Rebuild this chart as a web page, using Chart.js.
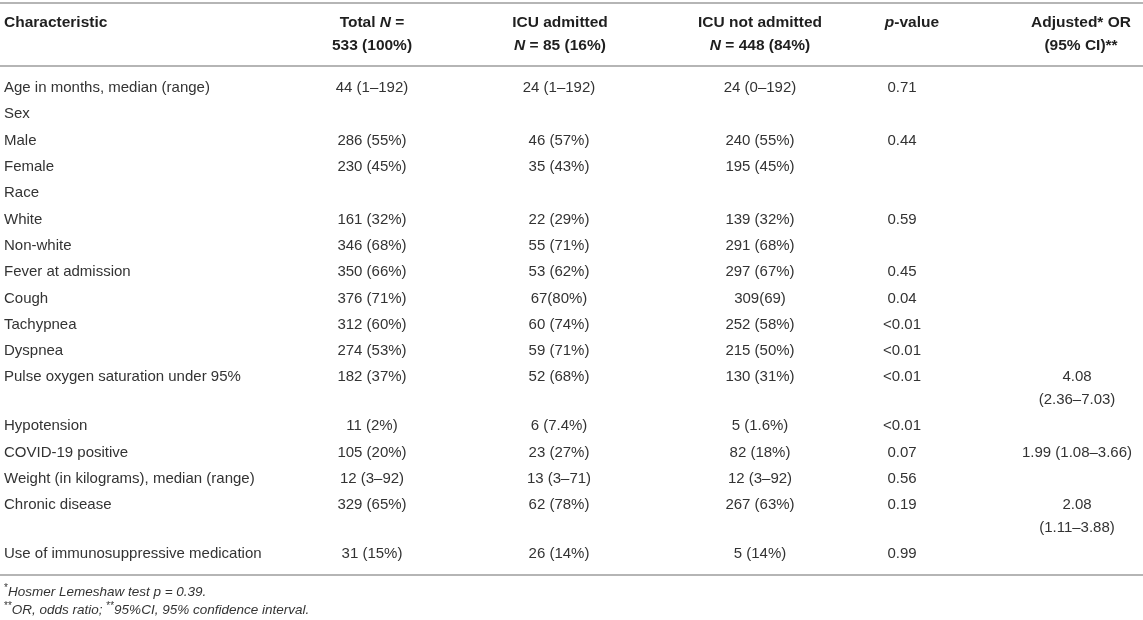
<!DOCTYPE html>
<html>
<head>
<meta charset="utf-8">
<script src="https://cdn.jsdelivr.net/npm/chart.js@4.4.1/dist/chart.umd.min.js"></script>
<style>
  html, body { margin: 0; padding: 0; background: #fff; }
  canvas { display: block; }
</style>
</head>
<body>
<canvas id="chart" width="1143" height="620"></canvas>
<script>
// table rows, one entry per row
const characteristics = [
  'Age in months, median (range)', 'Sex', 'Male', 'Female', 'Race', 'White', 'Non-white',
  'Fever at admission', 'Cough', 'Tachypnea', 'Dyspnea', 'Pulse oxygen saturation under 95%',
  'Hypotension', 'COVID-19 positive', 'Weight (in kilograms), median (range)', 'Chronic disease',
  'Use of immunosuppressive medication'
];
const totalN = [
  '44 (1–192)', '', '286 (55%)', '230 (45%)', '', '161 (32%)', '346 (68%)', '350 (66%)',
  '376 (71%)', '312 (60%)', '274 (53%)', '182 (37%)', '11 (2%)', '105 (20%)', '12 (3–92)',
  '329 (65%)', '31 (15%)'
];
const icuAdmitted = [
  '24 (1–192)', '', '46 (57%)', '35 (43%)', '', '22 (29%)', '55 (71%)', '53 (62%)',
  '67(80%)', '60 (74%)', '59 (71%)', '52 (68%)', '6 (7.4%)', '23 (27%)', '13 (3–71)',
  '62 (78%)', '26 (14%)'
];
const icuNotAdmitted = [
  '24 (0–192)', '', '240 (55%)', '195 (45%)', '', '139 (32%)', '291 (68%)', '297 (67%)',
  '309(69)', '252 (58%)', '215 (50%)', '130 (31%)', '5 (1.6%)', '82 (18%)', '12 (3–92)',
  '267 (63%)', '5 (14%)'
];
const pValues = [
  '0.71', '', '0.44', '', '', '0.59', '', '0.45', '0.04', '<0.01', '<0.01', '<0.01',
  '<0.01', '0.07', '0.56', '0.19', '0.99'
];
const adjustedOR = [
  '', '', '', '', '', '', '', '', '', '', '', '4.08\n(2.36–7.03)', '',
  '1.99 (1.08–3.66)', '', '2.08\n(1.11–3.88)', ''
];

// header cells: runs of [text, style]  ('' normal, 'i' italic)
const headerLine1 = [
  [['Characteristic', '']],
  [['Total ', ''], ['N', 'i'], [' =', '']],
  [['ICU admitted', '']],
  [['ICU not admitted', '']],
  [['p', 'i'], ['-value', '']],
  [['Adjusted* OR', '']]
];
const headerLine2 = [
  [],
  [['533 (100%)', '']],
  [['N', 'i'], [' = 85 (16%)', '']],
  [['N', 'i'], [' = 448 (84%)', '']],
  [],
  [['(95% CI)**', '']]
];
const footnotes = [
  [['*', 'sup'], ['Hosmer Lemeshaw test p = 0.39.', 'i']],
  [['**', 'sup'], ['OR, odds ratio; ', 'i'], ['**', 'sup'], ['95%CI, 95% confidence interval.', 'i']]
];

const FONT = '"Liberation Sans", Arial, Helvetica, sans-serif';
const RULE = '#b5b5b5';
const EXTRA_LINE = 0.86; // second line inside a cell, in row steps

// layout of columns on the x scale
const colX = [4, 372, 559, 760, 902, 1077];
const colAlign = ['left', 'center', 'center', 'center', 'center', 'center'];
const headerX = [4, 372, 560, 760, 912, 1081];
const columns = [characteristics, totalN, icuAdmitted, icuNotAdmitted, pValues, adjustedOR];

// row positions: a two-line cell pushes the next row down
const rowPos = [];
let pos = 0;
characteristics.forEach((_, i) => {
  rowPos.push(pos);
  const lines = Math.max(...columns.map(c => c[i].split('\n').length));
  pos += 1 + (lines - 1) * EXTRA_LINE;
});
const lastRow = rowPos[rowPos.length - 1];

function runFont(style, size, weight) {
  if (style === 'sup') return `${Math.round(size * 0.72)}px ${FONT}`;
  return `${style === 'i' ? 'italic ' : ''}${weight} ${size}px ${FONT}`;
}

function drawRuns(ctx, runs, x, y, align, size, weight) {
  let total = 0;
  runs.forEach(([t, s]) => { ctx.font = runFont(s, size, weight); total += ctx.measureText(t).width; });
  let cx = align === 'center' ? x - total / 2 : x;
  ctx.textAlign = 'left';
  runs.forEach(([t, s]) => {
    ctx.font = runFont(s, size, weight);
    ctx.fillText(t, cx, s === 'sup' ? y - size * 0.3 : y);
    cx += ctx.measureText(t).width;
  });
}

const tablePlugin = {
  id: 'table',
  beforeDatasetsDraw(chart) {
    const { ctx, chartArea, scales: { y } } = chart;
    ctx.save();
    ctx.strokeStyle = RULE;
    ctx.lineWidth = 2;
    [-3.25, -0.84, lastRow + 0.8].forEach(v => {
      const py = Math.round(y.getPixelForValue(v));
      ctx.beginPath();
      ctx.moveTo(chartArea.left, py);
      ctx.lineTo(chartArea.right, py);
      ctx.stroke();
    });
    ctx.restore();
  },
  afterDatasetsDraw(chart) {
    const { ctx, scales: { x, y } } = chart;
    const step = y.getPixelForValue(1) - y.getPixelForValue(0);
    ctx.save();
    ctx.textBaseline = 'middle';

    // body cells
    ctx.fillStyle = '#333';
    ctx.font = `15px ${FONT}`;
    chart.data.datasets.forEach((ds, di) => {
      const meta = chart.getDatasetMeta(di);
      ctx.textAlign = ds.align;
      meta.data.forEach((pt, i) => {
        ds.cells[i].split('\n').forEach((ln, k) => {
          ctx.fillText(ln, pt.x, pt.y + k * EXTRA_LINE * step);
        });
      });
    });

    // header
    ctx.fillStyle = '#1f1f1f';
    headerLine1.forEach((runs, c) => {
      drawRuns(ctx, runs, x.getPixelForValue(headerX[c]), y.getPixelForValue(-2.47), colAlign[c], 15.5, 'bold');
    });
    headerLine2.forEach((runs, c) => {
      drawRuns(ctx, runs, x.getPixelForValue(headerX[c]), y.getPixelForValue(-1.62), colAlign[c], 15.5, 'bold');
    });

    // footnotes
    ctx.fillStyle = '#333';
    footnotes.forEach((runs, k) => {
      drawRuns(ctx, runs, x.getPixelForValue(4), y.getPixelForValue(lastRow + 1.47 + k * 0.68), 'left', 13.5, 'normal');
    });
    ctx.restore();
  }
};

new Chart(document.getElementById('chart'), {
  type: 'scatter',
  data: {
    datasets: columns.map((cells, c) => ({
      label: 'col' + c,
      cells: cells,
      align: colAlign[c],
      data: cells.map((_, i) => ({ x: colX[c], y: rowPos[i] })),
      pointRadius: 0,
      pointHoverRadius: 0
    }))
  },
  options: {
    responsive: false,
    animation: false,
    layout: { padding: 0 },
    plugins: { legend: { display: false }, tooltip: { enabled: false } },
    scales: {
      x: { type: 'linear', display: false, min: 0, max: 1143 },
      y: { type: 'linear', display: false, reverse: true, min: -88 / 26.3, max: (620 - 88) / 26.3 }
    }
  },
  plugins: [tablePlugin]
});
</script>
</body>
</html>
